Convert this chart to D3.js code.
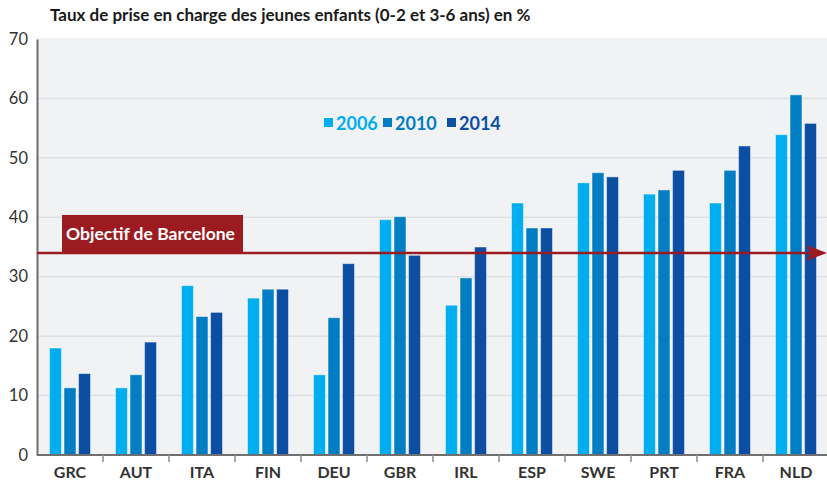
<!DOCTYPE html>
<html>
<head>
<meta charset="utf-8">
<title>Taux de prise en charge</title>
<script src="https://d3js.org/d3.v7.min.js"></script>
<style>
  body { margin: 0; background: #fff; }
  text { font-family: Lato, "Open Sans", sans-serif; }
</style>
</head>
<body>
<script>
// data
const countries = ["GRC", "AUT", "ITA", "FIN", "DEU", "GBR", "IRL", "ESP", "SWE", "PRT", "FRA", "NLD"];
const years = ["2006", "2010", "2014"];
const v2006 = [18.0, 11.3, 28.5, 26.4, 13.5, 39.6, 25.2, 42.4, 45.8, 43.9, 42.4, 53.9];
const v2010 = [11.3, 13.5, 23.3, 27.9, 23.1, 40.1, 29.8, 38.2, 47.5, 44.6, 47.9, 60.6];
const v2014 = [13.7, 19.0, 24.0, 27.9, 32.2, 33.6, 35.0, 38.2, 46.8, 47.9, 52.0, 55.8];
const yTicks = [0, 10, 20, 30, 40, 50, 60, 70];
const barcelona = 34;
const title = "Taux de prise en charge des jeunes enfants (0-2 et 3-6 ans) en %";
const targetLabel = "Objectif de Barcelone";

const colors = { "2006": "#00aeef", "2010": "#007dc3", "2014": "#0b4ea2" };
const series = { "2006": v2006, "2010": v2010, "2014": v2014 };

const width = 827, height = 484;
const plotLeft = 37, plotRight = 829, plotTop = 39, plotBottom = 455;

const svg = d3.select("body").append("svg")
    .attr("width", width)
    .attr("height", height);

const x = d3.scaleBand().domain(countries).range([plotLeft, plotRight]);
const x1 = d3.scaleBand().domain(years).range([0, x.bandwidth()])
    .paddingInner(0.18).paddingOuter(0.86);
const y = d3.scaleLinear().domain([0, 70]).range([plotBottom, plotTop]);

// plot background
svg.append("rect")
    .attr("x", plotLeft).attr("y", plotTop - 1)
    .attr("width", width - plotLeft).attr("height", plotBottom - plotTop + 1)
    .attr("fill", "#f1f2f4");

// gridlines
svg.append("g").selectAll("line")
    .data(yTicks.filter(d => d > 0 && d < 70))
    .join("line")
    .attr("x1", plotLeft).attr("x2", width)
    .attr("y1", d => y(d)).attr("y2", d => y(d))
    .attr("stroke", "#dfe0e3")
    .attr("stroke-width", 1.5);

// title
svg.append("text")
    .attr("x", 50).attr("y", 21)
    .attr("font-size", 17)
    .attr("font-weight", "bold")
    .attr("fill", "#1a1a1a")
    .text(title);

// bars
const rows = countries.map((c, i) => ({ c, vals: years.map(yr => ({ yr, v: series[yr][i] })) }));
svg.append("g").selectAll("g")
    .data(rows)
    .join("g")
    .attr("transform", d => `translate(${x(d.c)},0)`)
    .selectAll("rect")
    .data(d => d.vals)
    .join("rect")
    .attr("x", d => x1(d.yr))
    .attr("y", d => y(d.v))
    .attr("width", x1.bandwidth())
    .attr("height", d => y(0) - y(d.v))
    .attr("fill", d => colors[d.yr])
    .attr("stroke", "rgba(255,255,255,0.45)")
    .attr("stroke-width", 1);

// y axis
const yAxis = svg.append("g")
    .attr("transform", `translate(${plotLeft},0)`)
    .call(d3.axisLeft(y).tickValues(yTicks).tickSize(0).tickPadding(9));
yAxis.select(".domain").attr("stroke", "#6f6f6f").attr("stroke-width", 2);
yAxis.selectAll("text")
    .attr("font-size", 16.5)
    .attr("fill", "#333")
    .style("font-family", "Lato, sans-serif");

// x axis
const xAxis = svg.append("g")
    .attr("transform", `translate(0,${plotBottom})`)
    .call(d3.axisBottom(x).tickSize(0).tickPadding(12));
xAxis.select(".domain").attr("d", `M${plotLeft},0H${width}`)
    .attr("stroke", "#6f6f6f").attr("stroke-width", 2);
xAxis.selectAll("text")
    .attr("font-size", 16)
    .attr("font-weight", "bold")
    .attr("fill", "#333")
    .style("font-family", "Lato, sans-serif");
xAxis.append("g").selectAll("line")
    .data(countries.slice(1))
    .join("line")
    .attr("x1", d => x(d)).attr("x2", d => x(d))
    .attr("y1", 0).attr("y2", 7)
    .attr("stroke", "#8a8a8a")
    .attr("stroke-width", 1.5);

// legend
const legendX = [324, 383, 447];
const legend = svg.append("g").selectAll("g")
    .data(years)
    .join("g")
    .attr("transform", (d, i) => `translate(${legendX[i]},118)`);
legend.append("rect")
    .attr("width", 9).attr("height", 9)
    .attr("fill", d => colors[d]);
legend.append("text")
    .attr("x", 12).attr("y", 12)
    .attr("font-size", 18)
    .attr("font-weight", "bold")
    .attr("fill", d => colors[d])
    .text(d => d);

// Barcelona target
const yb = y(barcelona);
svg.append("line")
    .attr("x1", plotLeft).attr("x2", 812)
    .attr("y1", yb).attr("y2", yb)
    .attr("stroke", "#9b1b20")
    .attr("stroke-width", 2.5);
svg.append("path")
    .attr("d", `M827,${yb} L806,${yb - 8} L811,${yb} L806,${yb + 8} Z`)
    .attr("fill", "#9b1b20");

svg.append("rect")
    .attr("x", 62).attr("y", yb - 38)
    .attr("width", 181).attr("height", 38)
    .attr("fill", "#9b1b20");
svg.append("text")
    .attr("x", 66).attr("y", yb - 13)
    .attr("font-size", 17.5)
    .attr("font-weight", "bold")
    .attr("fill", "#fff")
    .text(targetLabel);
</script>
</body>
</html>
